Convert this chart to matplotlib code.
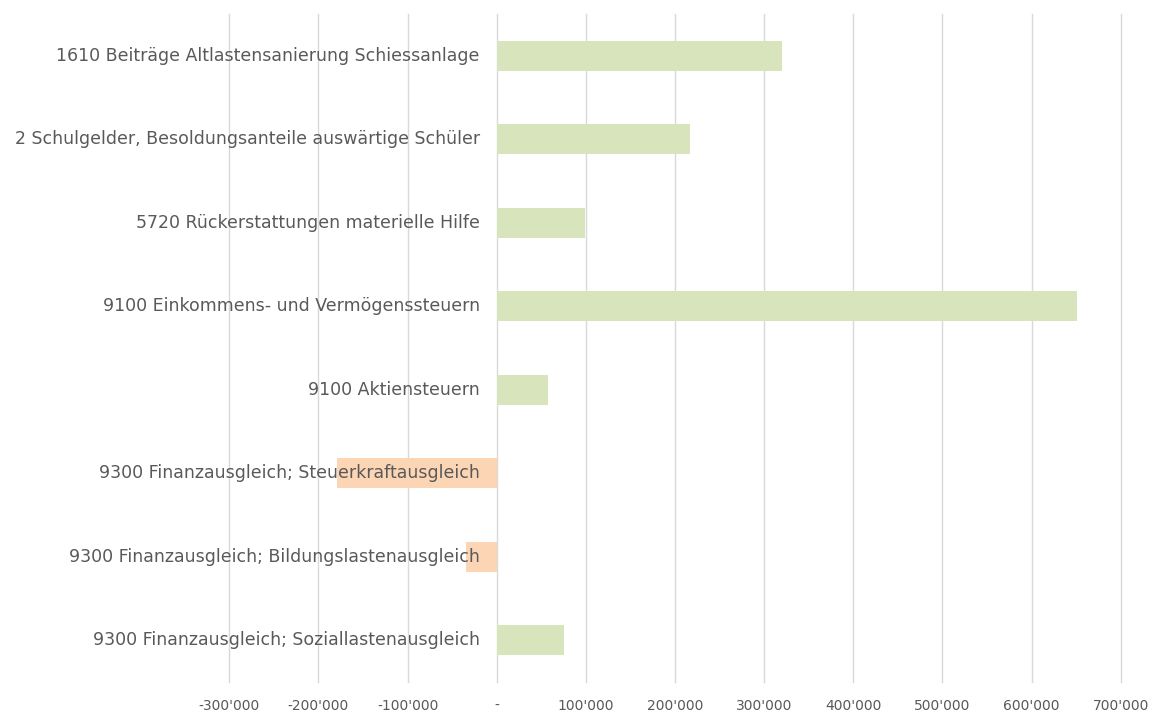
import matplotlib
matplotlib.use("Agg")
import matplotlib.pyplot as plt
from matplotlib.transforms import offset_copy
from matplotlib.ticker import FuncFormatter

categories = [
    "1610 Beiträge Altlastensanierung Schiessanlage",
    "2 Schulgelder, Besoldungsanteile auswärtige Schüler",
    "5720 Rückerstattungen materielle Hilfe",
    "9100 Einkommens- und Vermögenssteuern",
    "9100 Aktiensteuern",
    "9300 Finanzausgleich; Steuerkraftausgleich",
    "9300 Finanzausgleich; Bildungslastenausgleich",
    "9300 Finanzausgleich; Soziallastenausgleich",
]
values = [320000, 217000, 99000, 651000, 58000, -179000, -35000, 76000]
xticks = [-300000, -200000, -100000, 0, 100000, 200000, 300000, 400000, 500000, 600000, 700000]

POS = "#d8e4bc"
NEG = "#fcd5b4"
TXT = "#595959"

fig = plt.figure(figsize=(11.54, 7.13), dpi=100)
ax = fig.add_axes([229.3 / 1154, 1 - 682 / 713, (1120.7 - 229.3) / 1154, (682 - 14) / 713])

ypos = list(range(len(categories)))
colors = [POS if v >= 0 else NEG for v in values]
ax.barh(ypos, values, height=0.36, color=colors, zorder=2)

ax.set_xlim(-300000, 700000)
ax.set_ylim(len(categories) - 0.5, -0.5)
ax.set_xticks(xticks)

def fmt(v, p):
    if v == 0:
        return "-"
    s = f"{abs(int(v)):,}".replace(",", "'")
    return ("-" if v < 0 else "") + s

ax.xaxis.set_major_formatter(FuncFormatter(fmt))
ax.tick_params(axis="x", length=0, pad=12, labelsize=10, labelcolor=TXT)
ax.set_yticks([])
ax.grid(axis="x", color="#d9d9d9", linewidth=1, zorder=0)
for gl in ax.get_xgridlines():
    gl.set_clip_on(False)
for s in ax.spines.values():
    s.set_visible(False)

tr = offset_copy(ax.transData, fig=fig, x=-17, y=0, units="dots")
for i, c in enumerate(categories):
    ax.text(0, i, c, transform=tr, ha="right", va="center", fontsize=12.5,
            color=TXT, zorder=3, family="DejaVu Sans")

fig.savefig("out.png", dpi=100)
